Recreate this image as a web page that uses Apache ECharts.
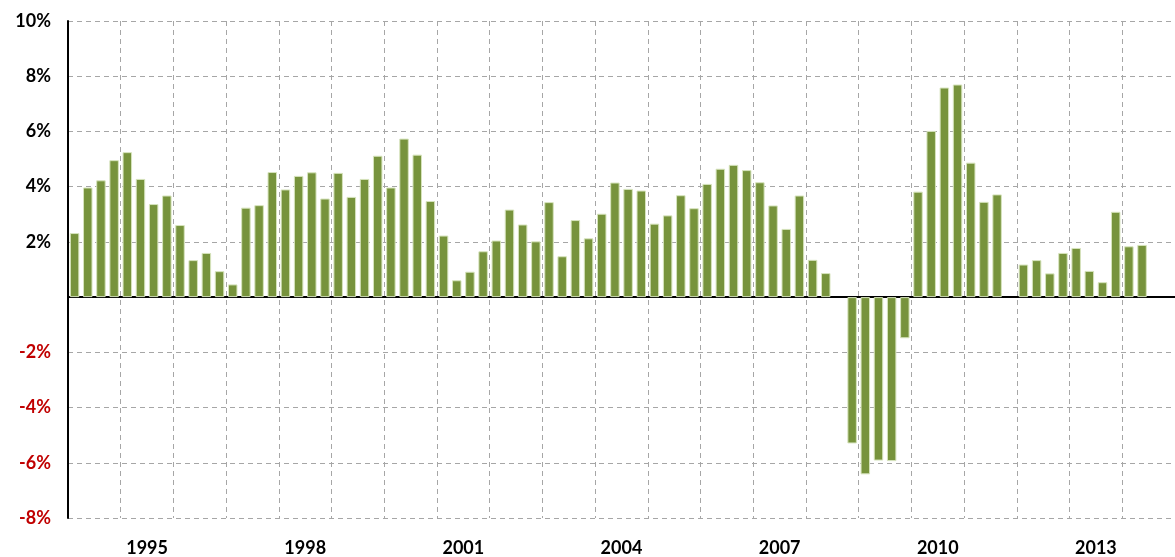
<!DOCTYPE html>
<html>
<head>
<meta charset="utf-8">
<script src="https://cdn.jsdelivr.net/npm/echarts@6/dist/echarts.min.js"></script>
<style>
    html, body { margin: 0; padding: 0; background: #fff; }
    #chart { width: 1175px; height: 557px; }
</style>
</head>
<body>
<div id="chart"></div>
<script>
// years on the axis, one label every 3 years
const years = ["1994", "1995", "1996", "1997", "1998", "1999", "2000", "2001", "2002", "2003", "2004",
    "2005", "2006", "2007", "2008", "2009", "2010", "2011", "2012", "2013", "2014"];
const quarters = ["Q1", "Q2", "Q3", "Q4"];

// quarterly growth in %, 1994Q1 .. 2014Q2 (null = no bar)
const growth = [
    2.32, 3.97, 4.23, 4.96,
    5.25, 4.28, 3.37, 3.68,
    2.61, 1.34, 1.60, 0.94,
    0.46, 3.24, 3.33, 4.53,
    3.90, 4.39, 4.52, 3.57,
    4.50, 3.63, 4.28, 5.12,
    3.97, 5.74, 5.16, 3.48,
    2.23, 0.61, 0.92, 1.66,
    2.05, 3.17, 2.63, 2.02,
    3.44, 1.48, 2.79, 2.13,
    3.02, 4.15, 3.92, 3.86,
    2.66, 2.96, 3.69, 3.22,
    4.10, 4.65, 4.79, 4.60,
    4.16, 3.32, 2.47, 3.68,
    1.35, 0.87, null, -5.30,
    -6.42, -5.92, -5.94, -1.49,
    3.82, 6.02, 7.59, 7.70,
    4.87, 3.45, 3.72, null,
    1.18, 1.34, 0.86, 1.60,
    1.78, 0.95, 0.54, 3.09,
    1.84, 1.89
];

let quarterCats = [];
years.forEach(y => {
    quarters.forEach(q => quarterCats.push(y + q));
});

const font = "Lato, 'Liberation Sans', sans-serif";
let chart = echarts.init(document.getElementById("chart"));
const option = {
    animation: false,
    grid: {
        left: 68,
        top: 21,
        width: 1117,
        height: 499
    },
    xAxis: [
        {
            // quarters, carries the bars and the zero line
            type: "category",
            data: quarterCats,
            axisLine: {
                onZero: true,
                lineStyle: { color: "#000", width: 2 }
            },
            axisTick: { show: false },
            axisLabel: { show: false },
            splitLine: { show: false }
        },
        {
            // years, labels and vertical grid
            type: "category",
            data: years,
            position: "bottom",
            axisLine: { show: false, onZero: false },
            axisTick: { show: false },
            axisLabel: {
                margin: 21,
                interval: function(index) {
                    return index % 3 === 1;
                },
                color: "#000",
                fontFamily: font,
                fontWeight: "bold",
                fontSize: 18
            },
            splitLine: {
                show: true,
                interval: 0,
                lineStyle: { color: "#a6a6a6", type: [5, 4], width: 1 }
            }
        }
    ],
    yAxis: {
        type: "value",
        min: -8,
        max: 10,
        interval: 2,
        axisLine: {
            show: true,
            onZero: false,
            lineStyle: { color: "#000", width: 2 }
        },
        axisTick: { show: false },
        axisLabel: {
            margin: 17,
            fontFamily: font,
            fontWeight: "bold",
            fontSize: 18,
            formatter: function(v) {
                return v === 0 ? "" : v + "%";
            },
            color: function(v) {
                return Number(v) < 0 ? "#c00000" : "#000";
            }
        },
        splitLine: {
            lineStyle: { color: "#a6a6a6", type: [5, 4], width: 1 }
        }
    },
    series: [
        {
            type: "bar",
            xAxisIndex: 0,
            data: growth,
            barCategoryGap: "28%",
            itemStyle: {
                color: "#77933c",
                borderColor: "#d7e4bd",
                borderWidth: 1
            }
        }
    ]
};
chart.setOption(option);
</script>
</body>
</html>
